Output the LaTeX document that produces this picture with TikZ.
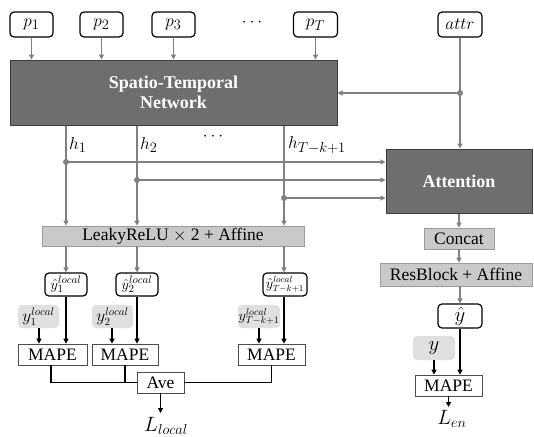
\documentclass[tikz,border=0pt]{standalone}
\usepackage{fontspec}
\setmainfont{Liberation Serif}
\usetikzlibrary{arrows.meta}
\definecolor{darkbox}{HTML}{6E6E6E}
\definecolor{darkedge}{HTML}{3C3C3C}
\definecolor{lightbox}{HTML}{C9C9C9}
\definecolor{lightedge}{HTML}{9C9C9C}
\definecolor{wire}{HTML}{808080}
\definecolor{truthbox}{HTML}{E0E0E0}
\tikzset{
  inbox/.style={draw=black, line width=1.2pt, rounded corners=4pt, fill=white,
    inner sep=0pt, minimum height=25pt, font=\fontsize{19}{21}\selectfont},
  bigbox/.style={draw=darkedge, line width=1pt, fill=darkbox, text=white, inner sep=0pt,
    align=center, font=\fontsize{18}{20}\selectfont\bfseries},
  layerbox/.style={draw=lightedge, line width=0.8pt, fill=lightbox, inner sep=0pt,
    font=\fontsize{17.5}{19}\selectfont},
  predbox/.style={draw=black, line width=1.2pt, rounded corners=4pt, fill=white,
    inner sep=0pt, font=\fontsize{15.5}{17}\selectfont},
  truth/.style={fill=truthbox, rounded corners=4pt, inner sep=0pt,
    font=\fontsize{16}{18}\selectfont},
  lossbox/.style={draw=black!70, line width=0.7pt, fill=white, inner sep=0pt,
    font=\fontsize{17.5}{19}\selectfont},
  garrow/.style={draw=wire, line width=1.5pt, -{Triangle[length=5pt,width=5pt]}},
  gline/.style={draw=wire, line width=1.5pt},
  barrow/.style={draw=black, line width=1.6pt, -{Triangle[length=5pt,width=5pt]}},
  bline/.style={draw=black, line width=1.6pt},
  dot/.style={circle, fill=wire, inner sep=0pt, minimum size=6pt},
  mathlabel/.style={inner sep=0pt, font=\fontsize{19}{21}\selectfont},
}
\begin{document}
\begin{tikzpicture}[x=1pt, y=-1pt]
\useasboundingbox (0,0) rectangle (534,436);

% inputs
\node[inbox, minimum width=43pt] (p1) at (31.5,24.5) {$p_1$};
\node[inbox, minimum width=43pt] (p2) at (101.5,24.5) {$p_2$};
\node[inbox, minimum width=43pt] (p3) at (173.5,24.5) {$p_3$};
\node[mathlabel] (pdots) at (252,23) {$\cdots$};
\node[inbox, minimum width=44pt] (pT) at (315.5,24.5) {$p_T$};
\node[inbox, minimum width=44pt] (attr) at (460,24.5) {$attr$};

% main blocks
\node[bigbox, minimum width=327pt, minimum height=65pt] (st) at (173.5,92.5)
  {Spatio-Temporal\\Network};
\node[bigbox, minimum width=146pt, minimum height=64pt] (att) at (459,181) {Attention};
\node[layerbox, minimum width=262pt, minimum height=20pt] (lr) at (173,236)
  {LeakyReLU $\times$ 2 + Affine};
\node[layerbox, minimum width=70pt, minimum height=21pt] (cat) at (459,238.5) {Concat};
\node[layerbox, minimum width=152pt, minimum height=23pt] (res) at (456,274.5)
  {ResBlock + Affine};

% inputs into the spatio-temporal network
\foreach \n in {p1,p2,p3,pT}
  \draw[garrow] (\n.south) -- (\n.south |- st.north);

% attribute branch
\coordinate (ad) at (460,93);
\draw[gline] (attr.south) -- (ad);
\draw[garrow] (ad) -- (att.north -| ad);
\draw[garrow] (ad) -- (st.east |- ad);
\node[dot] at (ad) {};

% hidden states
\coordinate (h1) at (66,162);
\coordinate (h2) at (137,180);
\coordinate (h3) at (284,198);
\foreach \c in {h1,h2,h3} {
  \draw[garrow] (st.south -| \c) -- (lr.north -| \c);
  \draw[garrow] (\c) -- (att.west |- \c);
}
\foreach \c in {h1,h2,h3} \node[dot] at (\c) {};
\node[mathlabel, anchor=west] (lh1) at (69,145) {$h_1$};
\node[mathlabel, anchor=west] (lh2) at (140,145) {$h_2$};
\node[mathlabel] (hdots) at (213,137) {$\cdots$};
\node[mathlabel, anchor=west] (lh3) at (288,145) {$h_{T-k+1}$};

% local predictions
\node[predbox, minimum width=42pt, minimum height=23pt] (yh1) at (66,284.5) {$\hat{y}_1^{local}$};
\node[predbox, minimum width=42pt, minimum height=23pt] (yh2) at (137,284.5) {$\hat{y}_2^{local}$};
\node[predbox, minimum width=44pt, minimum height=23pt] (yh3) at (285,284.5)
  {\fontsize{13.5}{15}\selectfont$\hat{y}_{T-k+1}^{local}$};
\node[truth, minimum width=41pt, minimum height=23pt] (yt1) at (38.5,316.5) {$y_1^{local}$};
\node[truth, minimum width=41pt, minimum height=23pt] (yt2) at (112.5,316.5) {$y_2^{local}$};
\node[truth, minimum width=42pt, minimum height=23pt] (yt3) at (259,316.5)
  {\fontsize{14}{16}\selectfont$y_{T-k+1}^{local}$};
\node[lossbox, minimum width=69pt, minimum height=21pt] (m1) at (52.5,354.5) {MAPE};
\node[lossbox, minimum width=66pt, minimum height=21pt] (m2) at (125,354.5) {MAPE};
\node[lossbox, minimum width=67pt, minimum height=21pt] (m3) at (271.5,354.5) {MAPE};
\node[lossbox, minimum width=47pt, minimum height=21pt] (ave) at (160.5,382.5) {Ave};
\node[mathlabel, font=\fontsize{21}{23}\selectfont] (lloc) at (166,426) {$L_{local}$};

\draw[garrow] (lr.south -| yh1) -- (yh1.north);
\draw[garrow] (lr.south -| yh2) -- (yh2.north);
\draw[garrow] (lr.south -| 284,0) -- (yh3.north -| 284,0);
\draw[barrow] (yh1.south) -- (m1.north -| yh1);
\draw[barrow] (yh2.south) -- (m2.north -| yh2);
\draw[barrow] (yh3.south -| 284,0) -- (m3.north -| 284,0);
\draw[barrow] (yt1.south -| 39,0) -- (m1.north -| 39,0);
\draw[barrow] (yt2.south -| 112,0) -- (m2.north -| 112,0);
\draw[barrow] (yt3.south) -- (m3.north -| yt3);

% averaging of the local losses
\draw[bline] (m1.south -| 51,0) |- (ave.west);
\draw[bline] (m2.south) -- (m2.south |- ave.west);
\draw[bline] (m3.south) |- (ave.east);
\draw[barrow] (ave.south) -- (ave.south |- 0,413);

% ensemble head
\node[predbox, minimum width=44pt, minimum height=24pt, font=\fontsize{20}{22}\selectfont] (yh) at (460,316) {$\hat{y}$};
\node[truth, minimum width=42pt, minimum height=24pt, font=\fontsize{20}{22}\selectfont] (yt) at (434,348) {$y$};
\node[lossbox, minimum width=67pt, minimum height=21pt] (m) at (448.5,385.5) {MAPE};
\node[mathlabel, font=\fontsize{21}{23}\selectfont] (len) at (452,419) {$L_{en}$};

\draw[garrow] (att.south -| cat) -- (cat.north);
\draw[garrow] (cat.south) -- (res.north -| cat);
\draw[garrow] (res.south -| yh) -- (yh.north);
\draw[barrow] (yh.south) -- (m.north -| yh);
\draw[barrow] (yt.south) -- (m.north -| yt);
\draw[barrow] (m.south) -- (m.south |- 0,407);
\end{tikzpicture}
\end{document}
